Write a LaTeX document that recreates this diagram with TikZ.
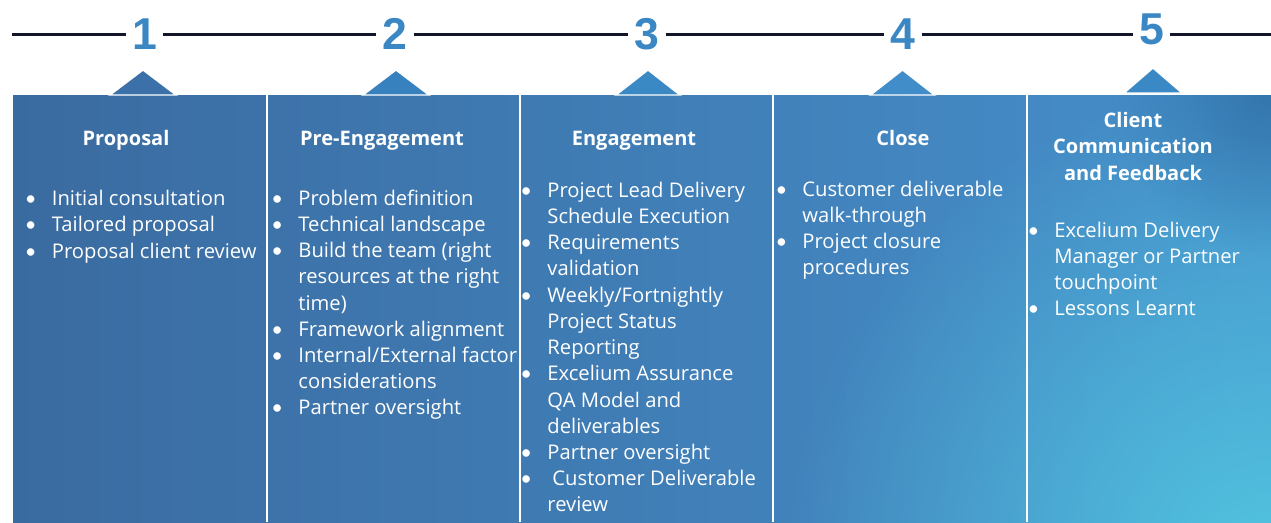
\documentclass[tikz,border=0pt]{standalone}
\usepackage{fontspec}
\setmainfont{Open Sans}
\newfontfamily\numfont{Liberation Sans}
\newfontfamily\bulfont{Lato}
\usetikzlibrary{fadings}

\definecolor{linenavy}{HTML}{12162B}
\definecolor{numblue}{HTML}{3A87C4}
\definecolor{panelL}{HTML}{3A6BA0}
\definecolor{panelM}{HTML}{3587C2}
\definecolor{panelR}{HTML}{4690CC}
\definecolor{glowteal}{HTML}{52C6E0}
\definecolor{darkcorner}{HTML}{2F6FA5}
\definecolor{triA}{HTML}{3B71A8}
\definecolor{triB}{HTML}{3681BE}
\definecolor{triC}{HTML}{3A88C4}
\definecolor{triD}{HTML}{418DC9}
\definecolor{triE}{HTML}{3A89C5}

\tikzfading[name=glowfade, inner color=transparent!0, outer color=transparent!100]

\newcommand{\bl}{\makebox[0pt]{\bulfont\textbullet}}

\begin{document}
\begin{tikzpicture}[x=0.02cm, y=-0.02cm,
  num/.style={font=\numfont\bfseries\fontsize{25.4}{26}\selectfont, text=numblue, inner xsep=3.4pt, inner ysep=0pt},
  timeline/.style={linenavy, line width=1.7pt},
  tri/.style={draw=white, line width=0.8pt, line join=miter},
  title/.style={font=\bfseries\fontsize{11.4}{15.1}\selectfont, text=white, inner sep=0pt, anchor=base},
  items/.style={font=\fontsize{11.5}{14.94}\selectfont, text=white, inner sep=0pt, anchor=base west}]

  \useasboundingbox (0,0) rectangle (1271,522);
  \fill[white] (0,0) rectangle (1271,522);

  % panels
  \shade[left color=panelL, middle color=panelM, right color=panelR] (13,95) rectangle (1271,522);
  \begin{scope}
    \clip (13,95) rectangle (1271,522);
    \fill[glowteal, path fading=glowfade, opacity=0.95] (1260,560) circle[radius=9.5cm];
    \fill[darkcorner, path fading=glowfade, opacity=0.8] (1271,95) circle[radius=3.2cm];
  \end{scope}
  \foreach \x in {267,520,773,1027}
    \draw[white, line width=1.2pt] (\x,95) -- (\x,522);

  % triangles
  \foreach \cx/\yb/\ya/\hw/\col in {143/95/70/33/triA, 396/95/70/33/triB, 648/95/70/32/triC, 902.5/95/70/32/triD, 1153/93/68/29/triE}
    \filldraw[tri, fill=\col] (\cx-\hw,\yb) -- (\cx,\ya) -- (\cx+\hw,\yb) -- cycle;

  % timeline
  \coordinate (tl) at (12,34);
  \coordinate (tr) at (1271,34);
  \node[num] (n1) at (144.5,34) {1};
  \node[num] (n2) at (395,34) {2};
  \node[num] (n3) at (647,34) {3};
  \node[num] (n4) at (903,34) {4};
  \node[num] (n5) at (1151.5,29) {5};
  \draw[timeline] (tl) -- (n1.west |- tl);
  \draw[timeline] (n1.east |- tl) -- (n2.west |- tl);
  \draw[timeline] (n2.east |- tl) -- (n3.west |- tl);
  \draw[timeline] (n3.east |- tl) -- (n4.west |- tl);
  \draw[timeline] (n4.east |- tl) -- (n5.west |- tl);
  \draw[timeline] (n5.east |- tl) -- (tr);

  % titles
  \node[title] (t1) at (126,145) {Proposal};
  \node[title] (t2) at (382,145) {Pre-Engagement};
  \node[title] (t3) at (634,145) {Engagement};
  \node[title] (t4) at (903,145) {Close};
  \node[title] (t5) at (1133,127) {\begin{tabular}[t]{@{}c@{}}Client\\Communication\\and Feedback\end{tabular}};

  % lists
  \node[items] (l1) at (30.5,205.5) {\begin{tabular}[t]{@{}l@{\hspace{12pt}}l@{}}
    \bl & Initial consultation\\
    \bl & Tailored proposal\\
    \bl & Proposal client review
  \end{tabular}};
  \node[items] (l2) at (277,205) {\begin{tabular}[t]{@{}l@{\hspace{12pt}}l@{}}
    \bl & Problem definition\\
    \bl & Technical landscape\\
    \bl & Build the team (right\\
        & resources at the right\\
        & time)\\
    \bl & Framework alignment\\
    \bl & Internal/External factor\\
        & considerations\\
    \bl & Partner oversight
  \end{tabular}};
  \node[items] (l3) at (526,197) {\begin{tabular}[t]{@{}l@{\hspace{12pt}}l@{}}
    \bl & Project Lead Delivery\\
        & Schedule Execution\\
    \bl & Requirements\\
        & validation\\
    \bl & Weekly/Fortnightly\\
        & Project Status\\
        & Reporting\\
    \bl & Excelium Assurance\\
        & QA Model and\\
        & deliverables\\
    \bl & Partner oversight\\
    \bl & \hspace{0.25em}Customer Deliverable\\
        & review
  \end{tabular}};
  \node[items] (l4) at (781,196) {\begin{tabular}[t]{@{}l@{\hspace{12pt}}l@{}}
    \bl & Customer deliverable\\
        & walk-through\\
    \bl & Project closure\\
        & procedures
  \end{tabular}};
  \node[items] (l5) at (1033,237) {\begin{tabular}[t]{@{}l@{\hspace{12pt}}l@{}}
    \bl & Excelium Delivery\\
        & Manager or Partner\\
        & touchpoint\\
    \bl & Lessons Learnt
  \end{tabular}};
\end{tikzpicture}
\end{document}
